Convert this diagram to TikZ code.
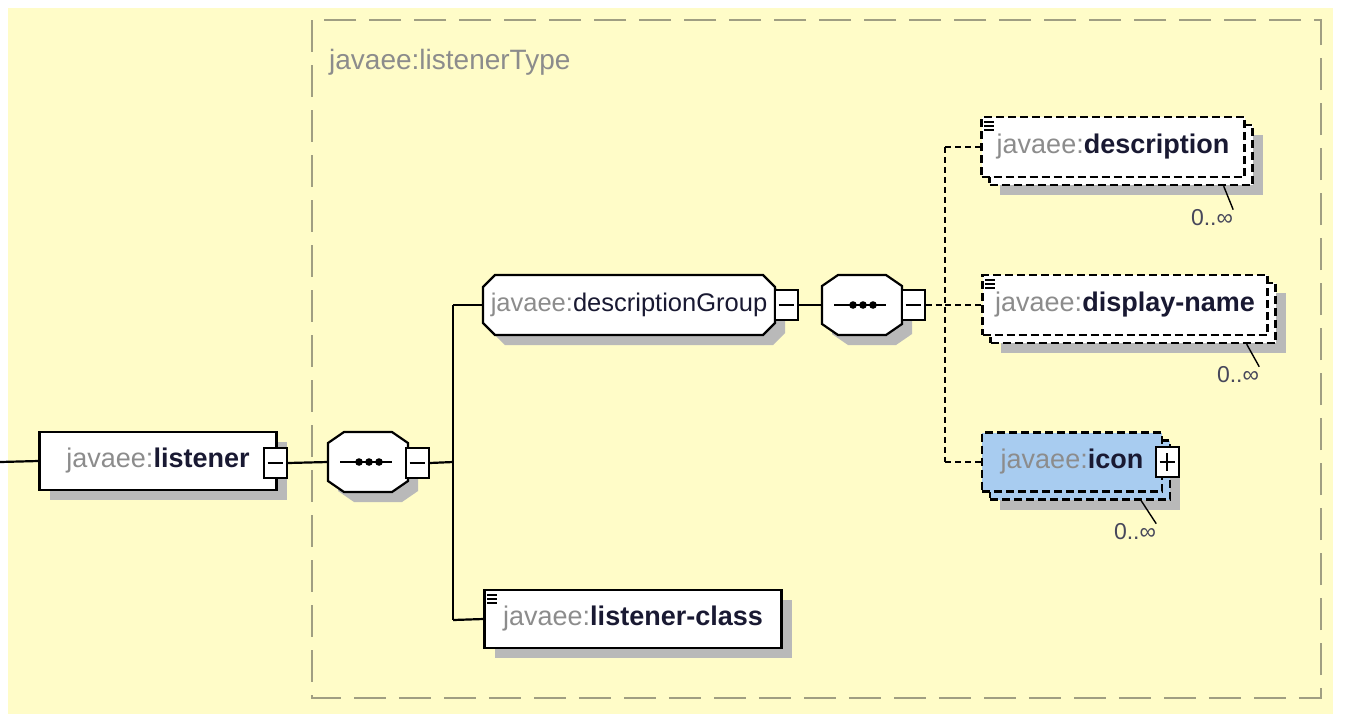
\documentclass[tikz,border=0pt]{standalone}
\usepackage{fontspec}
\setmainfont{Liberation Sans}
\usetikzlibrary{positioning,shadows}
\definecolor{paper}{RGB}{255,252,200}
\definecolor{framegray}{RGB}{160,158,130}
\definecolor{shadegray}{RGB}{185,185,185}
\definecolor{nsgray}{RGB}{140,140,140}
\definecolor{namecol}{RGB}{25,25,50}
\definecolor{iconblue}{RGB}{168,204,240}
\newcommand{\ns}[1]{\textcolor{nsgray}{javaee:}\textcolor{namecol}{\textbf{#1}}}
% octagon outline: centre, half width, half height, cut x, cut y
\newcommand{\chamfer}[5]{(#1) ++(-#2+#4,-#3) -- ++(2*#2-2*#4,0) -- ++(#4,#5)
  -- ++(0,2*#3-2*#5) -- ++(-#4,#5) -- ++(-2*#2+2*#4,0) -- ++(-#4,-#5)
  -- ++(0,-2*#3+2*#5) -- cycle}
\tikzset{
  conn/.style={line width=2.2pt},
  optconn/.style={conn, dash pattern=on 6pt off 4pt},
  frame/.style={framegray, line width=2.2pt, dash pattern=on 32pt off 13pt},
  title/.style={anchor=west, text=nsgray, inner sep=0pt, font=\fontsize{28}{30}\selectfont},
  box/.style={draw, line width=2.2pt, fill=white, minimum height=58, inner sep=0pt,
    font=\fontsize{27}{30}\selectfont},
  shade/.style={drop shadow={shadow xshift=10pt, shadow yshift=-10pt, fill=shadegray, opacity=1}},
  elem/.style={box, shade},
  optbox/.style={box, line width=2.4pt, dash pattern=on 8pt off 4pt, minimum height=60},
  outline/.style={draw, line width=2.2pt, fill=white},
  shadow fill/.style={fill=shadegray},
  compositor/.style={minimum width=80, minimum height=60, inner sep=0pt},
  minusbox/.style={draw, line width=2pt, fill=white, minimum width=23, minimum height=30,
    inner sep=0pt, path picture={\draw[line width=2pt]
      ([xshift=4pt]path picture bounding box.west) -- ([xshift=-4pt]path picture bounding box.east);}},
  plusbox/.style={minusbox, path picture={\draw[line width=2pt]
      ([xshift=4pt]path picture bounding box.west) -- ([xshift=-4pt]path picture bounding box.east)
      ([yshift=-6pt]path picture bounding box.north) -- ([yshift=6pt]path picture bounding box.south);}},
  occurs/.style={text=namecol!80, inner sep=0pt, font=\fontsize{23}{25}\selectfont},
  simple/.style={line width=1.6pt},
}
\begin{document}
\begin{tikzpicture}[x=1pt,y=-1pt]
\useasboundingbox (0,0) rectangle (1348,724);
\fill[white] (0,0) rectangle (1348,724);
\fill[paper] (8,8) rectangle (1333,714);

% complex type frame
\draw[frame] (312,20) rectangle (1321,698);
\node[title] (ttl) at (329,62) {javaee:listenerType};

% listener element
\coordinate (lin) at (0,462);
\node[elem, minimum width=237] (listener) at (158,461) {\ns{listener}};
\node[minusbox] (lmin) at (275,463) {};
\draw[conn] (lin) -- (listener.west);

% outer sequence
\coordinate (seq1c) at (368,462);
\fill[shadow fill] \chamfer{[shift={(10,10)}]seq1c}{40}{30}{16}{11};
\draw[outline] \chamfer{seq1c}{40}{30}{16}{11};
\node[compositor] (seq1) at (seq1c) {};
\node[minusbox] (s1min) at (417,463) {};
\draw[conn] (lmin.east) -- (seq1.west);
\draw[conn] ([xshift=-28]seq1.center) -- ([xshift=24]seq1.center);
\foreach \dx in {-10,0,10}
  \fill ([xshift=\dx+1]seq1.center) circle (3.8);

\coordinate (jn) at (453,462);
\coordinate (jt) at (453,305);
\coordinate (jb) at (453,620);
\draw[conn] (s1min.east) -- (jn);
\draw[conn] (jt) -- (jb);

% descriptionGroup
\coordinate (grpc) at (629,305);
\fill[shadow fill] \chamfer{[shift={(10,10)}]grpc}{146}{30}{12}{12};
\draw[outline] \chamfer{grpc}{146}{30}{12}{12};
\node[compositor, minimum width=292, font=\fontsize{25.5}{30}\selectfont] (grp) at (grpc)
  {\textcolor{nsgray}{javaee:}\textcolor{namecol}{descriptionGroup}};
\node[minusbox] (gmin) at (786,305) {};
\draw[conn] (jt) -- (grp.west);

% inner sequence
\coordinate (seq2c) at (862,305);
\fill[shadow fill] \chamfer{[shift={(10,10)}]seq2c}{40}{30}{16}{11};
\draw[outline] \chamfer{seq2c}{40}{30}{16}{11};
\node[compositor] (seq2) at (seq2c) {};
\node[minusbox] (s2min) at (913,305) {};
\draw[conn] (gmin.east) -- (seq2.west);
\draw[conn] ([xshift=-28]seq2.center) -- ([xshift=24]seq2.center);
\foreach \dx in {-10,0,10}
  \fill ([xshift=\dx+1]seq2.center) circle (3.8);

\coordinate (dj) at (945,305);
\coordinate (dt) at (945,147);
\coordinate (db) at (945,462);
\draw[optconn] (s2min.east) -- (dj);
\draw[optconn] (dt) -- (db);

% description
\node[optbox, shade, minimum width=263] (descb) at (1121,155) {};
\node[optbox, minimum width=263] (desc) at (1113,147) {\ns{description}};
\draw[simple] ([xshift=4,yshift=-6]desc.north west) -- ++(10,0)
  ([xshift=4,yshift=-10]desc.north west) -- ++(10,0)
  ([xshift=4,yshift=-14]desc.north west) -- ++(10,0);
\node[occurs] (descn) at (1212,218) {0..∞};
\draw[line width=1.4pt] ([xshift=-30]descb.south east) -- (descn.north east);
\draw[optconn] (dt) -- (desc.west);

% display-name
\node[optbox, shade, minimum width=285] (dnb) at (1133,313) {};
\node[optbox, minimum width=285] (dn) at (1125,305) {\ns{display-name}};
\draw[simple] ([xshift=4,yshift=-6]dn.north west) -- ++(10,0)
  ([xshift=4,yshift=-10]dn.north west) -- ++(10,0)
  ([xshift=4,yshift=-14]dn.north west) -- ++(10,0);
\node[occurs] (dnn) at (1238,375) {0..∞};
\draw[line width=1.4pt] ([xshift=-30]dnb.south east) -- (dnn.north east);
\draw[optconn] (dj) -- (dn.west);

% icon
\node[optbox, shade, fill=iconblue, minimum width=180, minimum height=59] (iconb) at (1080,470) {};
\node[optbox, fill=iconblue, minimum width=180, minimum height=59] (icon) at (1072,462) {\ns{icon}};
\node[plusbox] (iplus) at (1167,462) {};
\node[occurs] (iconn) at (1135,532) {0..∞};
\draw[line width=1.4pt] ([xshift=-30]iconb.south east) -- (iconn.north east);
\draw[optconn] (db) -- (icon.west);

% listener-class
\node[elem, minimum width=297] (lc) at (633,619) {\ns{listener-class}};
\draw[simple] ([xshift=4,yshift=-6]lc.north west) -- ++(10,0)
  ([xshift=4,yshift=-10]lc.north west) -- ++(10,0)
  ([xshift=4,yshift=-14]lc.north west) -- ++(10,0);
\draw[conn] (jb) -- (lc.west);
\end{tikzpicture}
\end{document}
